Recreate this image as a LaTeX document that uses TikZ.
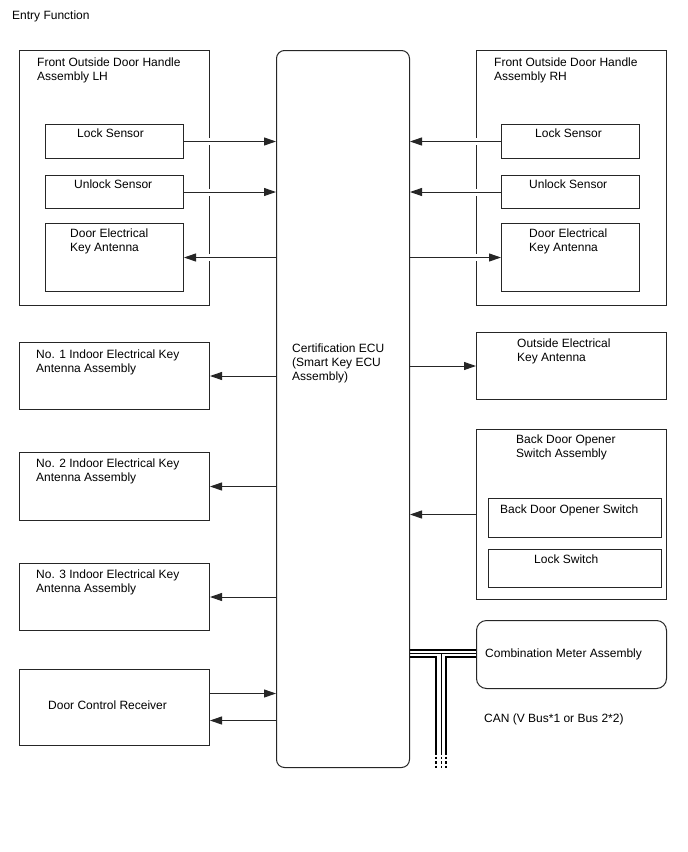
\documentclass[tikz,border=0pt]{standalone}
\usepackage{fontspec}
\setmainfont{Liberation Sans}
\usetikzlibrary{arrows.meta,calc}
\pgfdeclarelayer{bg}
\pgfdeclarelayer{fg}
\pgfsetlayers{bg,main,fg}
\begin{document}
\begin{tikzpicture}[x=1pt,y=-1pt,
  box/.style={draw=black!85, anchor=north west, inner sep=0pt, line width=1pt},
  txt/.style={anchor=north west, inner sep=0pt, align=left, font=\fontsize{12}{14}\selectfont},
  arr/.style={draw=black!85, line width=1pt, -{Triangle[length=12pt,width=8pt]}},
  gapped/.style={preaction={draw=white, line width=7pt, -}},
  busthick/.style={draw=black, line width=2pt},
  busthin/.style={draw=black, line width=1pt},
  bustail/.style={dash pattern=on 2.5pt off 2pt}]
\useasboundingbox (0,0) rectangle (688,852);

% background and outer boxes
\begin{pgfonlayer}{bg}
\fill[white] (0,0) rectangle (688,852);
\node[box, minimum width=190pt, minimum height=255pt] (lh) at (19,50) {};
\node[box, minimum width=190pt, minimum height=255pt] (rh) at (476,50) {};
\node[box, minimum width=190pt, minimum height=67pt] (no1) at (19,342) {};
\node[box, minimum width=190pt, minimum height=68pt] (no2) at (19,452) {};
\node[box, minimum width=190pt, minimum height=67pt] (no3) at (19,563) {};
\node[box, minimum width=190pt, minimum height=76pt] (dcr) at (19,669) {};
\node[box, minimum width=190pt, minimum height=67pt] (outant) at (476,332) {};
\node[box, minimum width=190pt, minimum height=170pt] (bdo) at (476,429) {};
\node[box, minimum width=190pt, minimum height=68pt, rounded corners=10pt] (meter) at (476,620) {};
\end{pgfonlayer}

% ECU and inner boxes
\begin{pgfonlayer}{fg}
\node[box, minimum width=133pt, minimum height=717pt, rounded corners=8pt] (ecu) at (276,50) {};
\node[box, minimum width=138pt, minimum height=34pt] (lhlock) at (45,124) {};
\node[box, minimum width=138pt, minimum height=33pt] (lhunlock) at (45,175) {};
\node[box, minimum width=138pt, minimum height=68pt] (lhant) at (45,223) {};
\node[box, minimum width=138pt, minimum height=34pt] (rhlock) at (501,124) {};
\node[box, minimum width=138pt, minimum height=33pt] (rhunlock) at (501,175) {};
\node[box, minimum width=138pt, minimum height=68pt] (rhant) at (501,223) {};
\node[box, minimum width=173pt, minimum height=39pt] (bdos) at (488,498) {};
\node[box, minimum width=173pt, minimum height=38pt] (lsw) at (488,549) {};
\end{pgfonlayer}

% texts
\node[txt] (title) at (12,11) {Entry Function};
\node[txt] (lhT) at (37,58) {Front Outside Door Handle\\Assembly LH};
\node[txt] (lhlockT) at (77,129) {Lock Sensor};
\node[txt] (lhunlockT) at (74,180) {Unlock Sensor};
\node[txt] (lhantT) at (70,229) {Door Electrical\\Key Antenna};
\node[txt] (rhT) at (494,58) {Front Outside Door Handle\\Assembly RH};
\node[txt] (rhlockT) at (535,129) {Lock Sensor};
\node[txt] (rhunlockT) at (529,180) {Unlock Sensor};
\node[txt] (rhantT) at (529,229) {Door Electrical\\Key Antenna};
\node[txt] (ecuT) at (292,344) {Certification ECU\\(Smart Key ECU\\Assembly)};
\node[txt] (no1T) at (36,350) {No. 1 Indoor Electrical Key\\Antenna Assembly};
\node[txt] (no2T) at (36,459) {No. 2 Indoor Electrical Key\\Antenna Assembly};
\node[txt] (no3T) at (36,570) {No. 3 Indoor Electrical Key\\Antenna Assembly};
\node[txt] (dcrT) at (48,701) {Door Control Receiver};
\node[txt] (outantT) at (517,339) {Outside Electrical\\Key Antenna};
\node[txt] (bdoT) at (516,435) {Back Door Opener\\Switch Assembly};
\node[txt] (bdosT) at (500,505) {Back Door Opener Switch};
\node[txt] (lswT) at (534,555) {Lock Switch};
\node[txt] (meterT) at (485,649) {Combination Meter Assembly};
\node[txt] (canT) at (484,714) {CAN (V Bus*1 or Bus 2*2)};

% arrows crossing the door handle assemblies
\draw[arr, gapped] (lhlock.east) -- (lhlock.east -| ecu.west);
\draw[arr, gapped] (lhunlock.east) -- (lhunlock.east -| ecu.west);
\draw[arr, gapped] (lhant.east -| ecu.west) -- (lhant.east);
\draw[arr, gapped] (rhlock.west) -- (rhlock.west -| ecu.east);
\draw[arr, gapped] (rhunlock.west) -- (rhunlock.west -| ecu.east);
\draw[arr, gapped] (rhant.west -| ecu.east) -- (rhant.west);

% other arrows
\draw[arr] (no1.east -| ecu.west) -- (no1.east);
\draw[arr] (no2.east -| ecu.west) -- (no2.east);
\draw[arr] (no3.east -| ecu.west) -- (no3.east);
\draw[arr] ([yshift=14pt]dcr.east) -- ([yshift=14pt]dcr.east -| ecu.west);
\draw[arr] ([yshift=-13pt]dcr.east -| ecu.west) -- ([yshift=-13pt]dcr.east);
\draw[arr] (outant.west -| ecu.east) -- (outant.west);
\draw[arr] (bdo.west) -- (bdo.west -| ecu.east);

% CAN bus
\coordinate (canL) at (436,752);
\coordinate (canM) at (441,752);
\coordinate (canR) at (446,752);
\draw[busthick] ([yshift=5pt]meter.west -| ecu.east) -- ([yshift=5pt]meter.west);
\draw[busthin] ([yshift=1.5pt]meter.west -| ecu.east) -- ([yshift=1.5pt]meter.west);
\draw[busthick] ([yshift=-2pt]meter.west -| ecu.east) -| (canL);
\draw[busthick] ([yshift=-2pt]meter.west) -| (canR);
\draw[busthin] ([yshift=1.5pt]meter.west -| canM) -- (canM);
\draw[busthick, bustail] (canL) -- (canL |- ecu.south);
\draw[busthin, bustail] (canM) -- (canM |- ecu.south);
\draw[busthick, bustail] (canR) -- (canR |- ecu.south);
\end{tikzpicture}
\end{document}
